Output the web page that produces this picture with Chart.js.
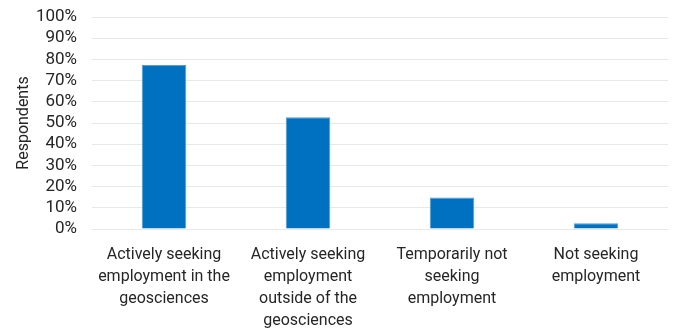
<!DOCTYPE html>
<html>
<head>
<meta charset="utf-8">
<title>Employment status</title>
<script src="https://cdn.jsdelivr.net/npm/chart.js@4/dist/chart.umd.min.js"></script>
<style>
  html, body { margin: 0; padding: 0; background: #ffffff; }
  #wrap { width: 676px; height: 331px; position: relative; }
</style>
</head>
<body>
<div id="wrap"><canvas id="statusChart"></canvas></div>
<script>
// Employment status of respondents (% of respondents)
const categories = [
    ['Actively seeking', 'employment in the', 'geosciences'],
    ['Actively seeking', 'employment', 'outside of the', 'geosciences'],
    ['Temporarily not', 'seeking', 'employment'],
    ['Not seeking', 'employment']
];
const respondents = [77.4, 52.7, 14.8, 2.7];
const yTicks = [0, 10, 20, 30, 40, 50, 60, 70, 80, 90, 100];

const labelFont = { family: "'Roboto', sans-serif", size: 16, lineHeight: 1.38 };
const textColor = '#262626';

const ctx = document.getElementById('statusChart').getContext('2d');
new Chart(ctx, {
    type: 'bar',
    data: {
        labels: categories,
        datasets: [{
            label: 'Respondents',
            data: respondents,
            backgroundColor: '#0070c0',
            borderColor: '#5b9bd5',
            borderWidth: 1,
            categoryPercentage: 1,
            barPercentage: 0.31
        }]
    },
    options: {
        responsive: true,
        maintainAspectRatio: false,
        animation: false,
        layout: { padding: { left: 0, right: 8, top: 17, bottom: 0 } },
        plugins: {
            legend: { display: false },
            tooltip: { enabled: false }
        },
        scales: {
            x: {
                grid: { display: false, drawTicks: false },
                border: { display: false },
                ticks: {
                    color: textColor,
                    font: labelFont,
                    padding: 15,
                    maxRotation: 0,
                    autoSkip: false
                },
                afterFit: function(scale) { scale.height = 102; }
            },
            y: {
                min: 0,
                max: 100,
                afterBuildTicks: function(scale) {
                    scale.ticks = yTicks.map(v => ({ value: v }));
                },
                grid: { color: '#e8e8e8', lineWidth: 1, drawTicks: false },
                border: { display: false },
                ticks: {
                    color: textColor,
                    font: { family: labelFont.family, size: 17 },
                    padding: 15,
                    autoSkip: false,
                    callback: v => v + '%'
                },
                title: {
                    display: true,
                    text: 'Respondents',
                    color: textColor,
                    font: labelFont,
                    padding: { top: 13, bottom: 0 }
                },
                afterFit: function(scale) {
                    scale.width = 92;
                    scale.paddingTop = 0;
                    scale.paddingBottom = 0;
                }
            }
        }
    }
});
</script>
</body>
</html>
